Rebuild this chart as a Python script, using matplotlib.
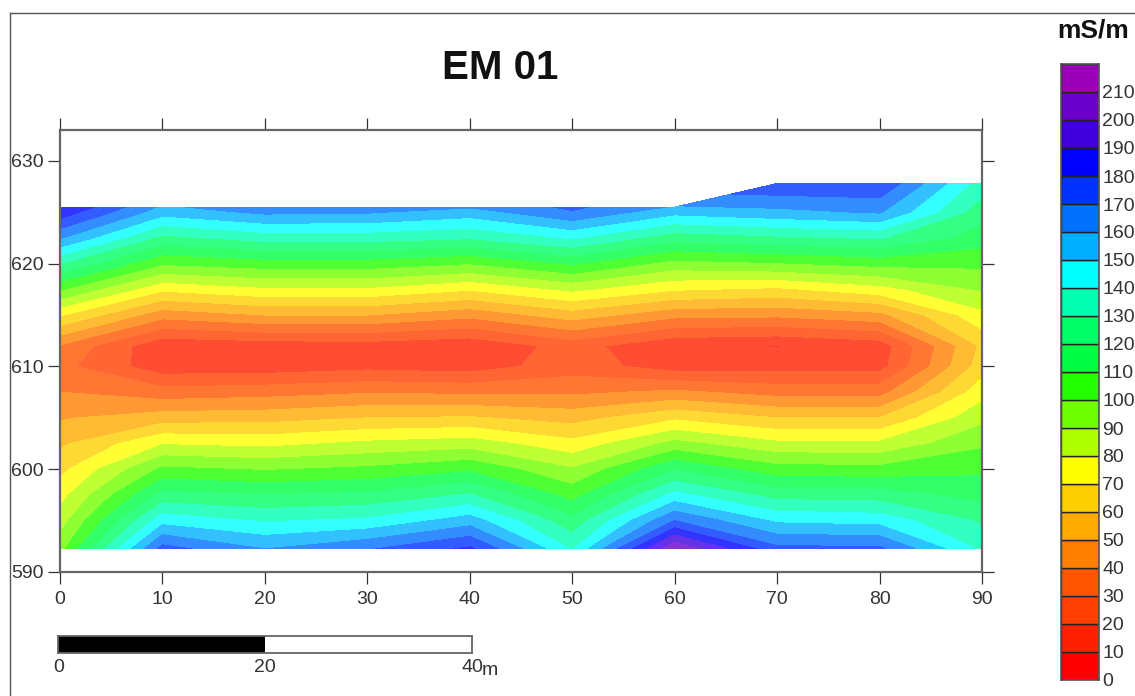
import numpy as np
import matplotlib
matplotlib.use('Agg')
import matplotlib.pyplot as plt
from matplotlib.lines import Line2D
from matplotlib.patches import Rectangle

plt.rcParams['font.family'] = ['Liberation Sans', 'DejaVu Sans']

W, H = 1135, 696

# section geometry
distance = [0, 10, 20, 30, 40, 50, 60, 70, 80, 90]
surface = [625.5, 625.5, 625.5, 625.5, 625.5, 625.5, 625.5, 627.8, 627.8, 627.8]
elevation = [592.25, 595, 597.5, 600, 602.5, 605, 607.5, 610, 612, 615, 617.5, 620, 622.5, 625]

# conductivity (mS/m) per column, bottom to top, last value is at the surface
x00 = [96, 85, 76, 67, 58, 49, 40, 33, 39, 71, 101, 130, 161, 186, 191]
x10 = [174, 146, 123, 102, 79, 55, 34, 14, 12, 44, 72, 101, 127, 154, 158]
x20 = [160, 139, 120, 99, 77, 56, 36, 14, 14, 50, 78, 105, 134, 162, 167]
x30 = [169, 142, 122, 102, 82, 60, 39, 17, 15, 50, 78, 105, 134, 161, 168]
x40 = [182, 155, 131, 108, 85, 61, 38, 15, 12, 43, 71, 100, 131, 155, 161]
x50 = [139, 123, 106, 91, 73, 56, 38, 25, 24, 55, 82, 111, 141, 169, 172]
x60 = [209, 170, 143, 119, 93, 68, 42, 15, 11.5, 43, 71, 96, 124, 153, 159]
x70 = [173, 148, 126, 104, 82, 60, 36, 16, 9.5, 42, 68, 99, 128, 157, 179]
x80 = [172, 146, 125, 103, 82, 60, 36, 16, 14, 47, 76, 103, 131, 161, 179]
x90 = [138, 128.5, 116, 108, 98, 87, 76, 65, 62, 77, 91, 102, 115, 124, 135]

levels = list(range(0, 230, 10))
level_colors = ['#ff0000', '#ff2000', '#ff4000', '#ff5500', '#ff8000', '#ffaa00',
                '#ffd000', '#ffff00', '#b0ff00', '#70ff00', '#22ff00', '#00ff44',
                '#00ff66', '#00ffb0', '#00ffff', '#00b0ff', '#0070ff', '#0033ff',
                '#0000ff', '#4000dd', '#6a00cc', '#9a00b8']

xticks = [0, 10, 20, 30, 40, 50, 60, 70, 80, 90]
yticks = [590, 600, 610, 620, 630]
scale_ticks = [0, 20, 40]


def box(left, top, right, bottom):
    # pixel box (from top left of the image) to figure fractions
    return [left / W, 1 - bottom / H, (right - left) / W, (bottom - top) / H]


fig = plt.figure(figsize=(W / 100, H / 100), dpi=100, facecolor='white')

# outer frame, only top and left show
fig.add_artist(Line2D([10 / W, 1], [1 - 13 / H, 1 - 13 / H], color='#555555', lw=1.0))
fig.add_artist(Line2D([10 / W, 10 / W], [0, 1 - 13 / H], color='#555555', lw=1.0))

# section
ax = fig.add_axes(box(60, 130, 982, 572))
values = np.array([x00, x10, x20, x30, x40, x50, x60, x70, x80, x90]).T
X = np.tile(distance, (len(elevation) + 1, 1))
Y = np.array([[e] * len(distance) for e in elevation] + [surface])
# the field is drawn a little washed out compared with the legend
field_colors = [tuple(0.8 * c + 0.2 for c in matplotlib.colors.to_rgb(k)) for k in level_colors]
ax.contourf(X, Y, values, levels=levels, colors=field_colors)

ax.set_xlim(0, 90)
ax.set_ylim(590, 633)
ax.set_xticks(xticks)
ax.set_yticks(yticks)
ax.tick_params(axis='both', length=8.5, width=0.9, color='#333333', labelcolor='#333333',
               labelsize=14, top=True, right=True, direction='out')
ax.tick_params(axis='x', pad=5.5)
ax.tick_params(axis='y', pad=3)
for s in ax.spines.values():
    s.set_color('#666666')
    s.set_linewidth(1.6)

fig.text(500 / W, 1 - 68 / H, 'EM 01', fontsize=29, fontweight='bold', ha='center',
         va='center', color='#111111')

# scale bar
sb = fig.add_axes(box(58.5, 636, 472, 653))
sb.add_patch(Rectangle((0, 0), 20, 1, facecolor='black', edgecolor='none'))
sb.add_patch(Rectangle((20, 0), 20, 1, facecolor='white', edgecolor='none'))
sb.set_xlim(0, 40)
sb.set_ylim(0, 1)
sb.set_yticks([])
sb.set_xticks(scale_ticks)
sb.set_xticklabels([str(t) for t in scale_ticks], fontsize=14, color='#333333')
sb.get_xticklabels()[-1].set_x(39.8)
sb.tick_params(axis='x', length=0, pad=4)
for s in sb.spines.values():
    s.set_color('#666666')
    s.set_linewidth(1.3)
fig.text(482 / W, 1 - 675 / H, 'm', fontsize=14, color='#333333', ha='left', va='baseline')

# legend bar
cb = fig.add_axes(box(1061, 64, 1099, 680))
cb.bar([0] * (len(levels) - 1), [10] * (len(levels) - 1), width=1, bottom=levels[:-1],
       align='edge', color=level_colors, edgecolor='#222222', linewidth=1.0)
cb.set_xlim(0, 1)
cb.set_ylim(levels[0], levels[-1])
cb.set_xticks([])
cb.yaxis.tick_right()
cb.set_yticks(levels[:-1])
cb.tick_params(axis='y', length=0, pad=2.5, labelsize=14, labelcolor='#333333')
for s in cb.spines.values():
    s.set_color('#555555')
    s.set_linewidth(1.2)

fig.text(1093 / W, 1 - 30 / H, 'mS/m', fontsize=19, fontweight='bold', ha='center',
         va='center', color='#111111')

fig.savefig('out.png', dpi=100)
